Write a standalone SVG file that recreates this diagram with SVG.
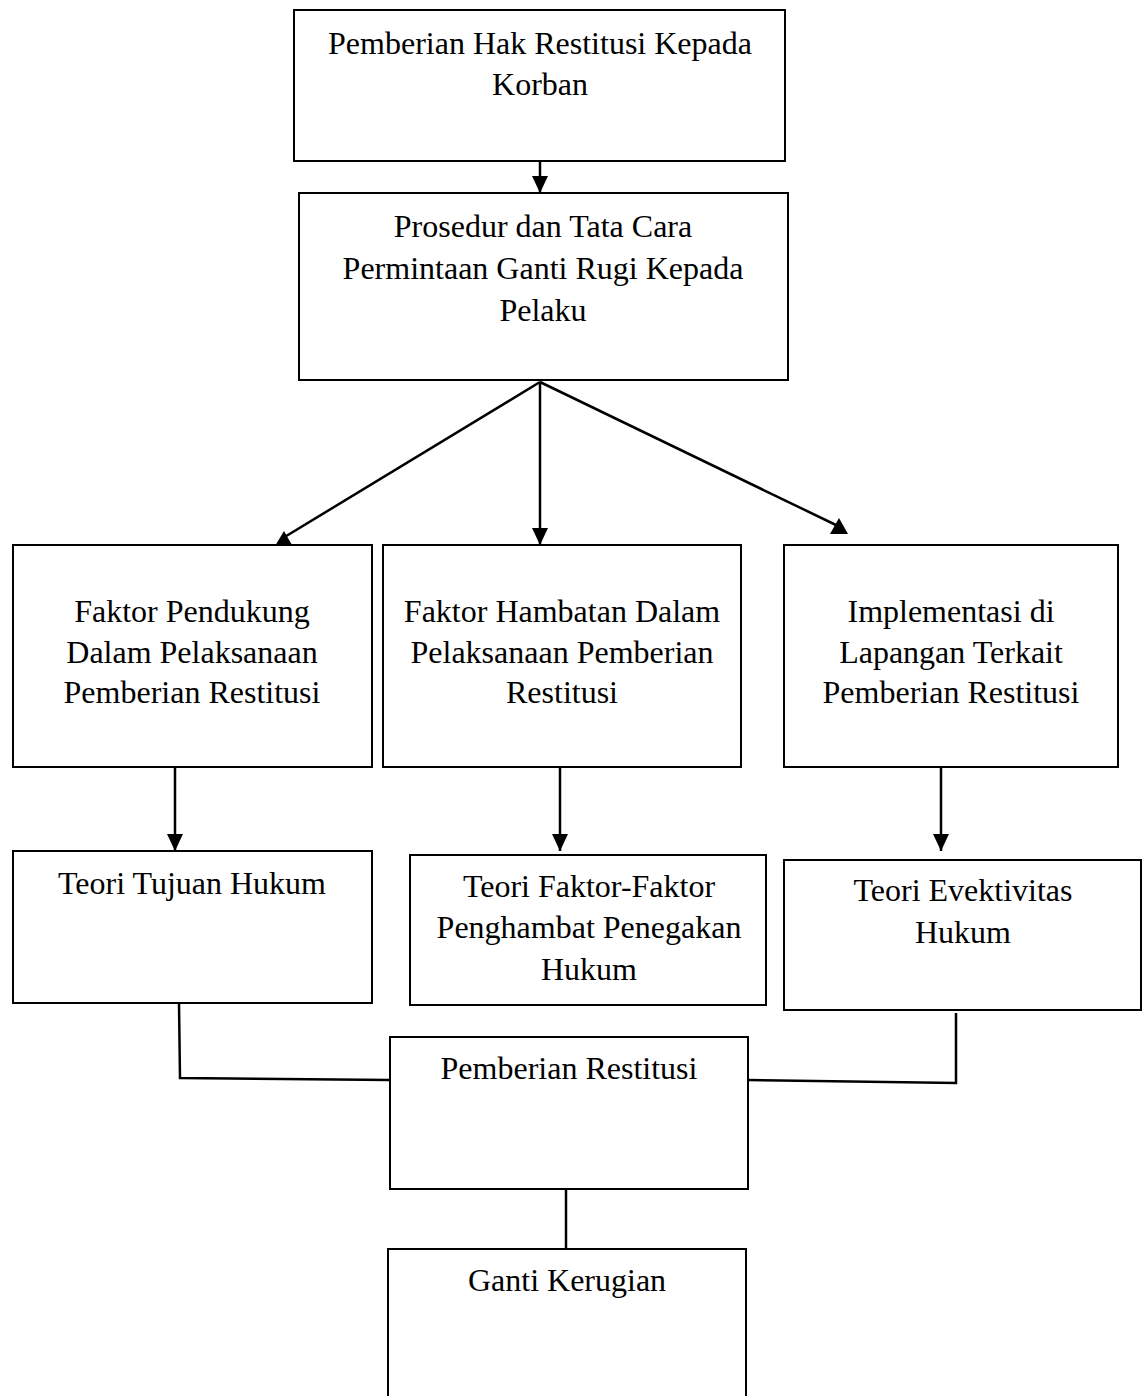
<svg xmlns="http://www.w3.org/2000/svg" width="1142" height="1396" viewBox="0 0 1142 1396">
<style>
rect{fill:#fff;stroke:#000;stroke-width:2}
text{font-family:"Liberation Serif","Times New Roman",serif;font-size:32px;fill:#000;text-anchor:middle}
.c{fill:none;stroke:#000;stroke-width:2.5}
.h{fill:#000;stroke:none}
</style>
<defs>
<marker id="ah" markerUnits="userSpaceOnUse" markerWidth="17" markerHeight="16" refX="17" refY="8" orient="auto">
<path d="M0,0 L17,8 L0,16 Z" fill="#000"/>
</marker>
</defs>
<rect x="0" y="0" width="1142" height="1396" style="stroke:none"/>
<g id="connectors">
<line class="c" x1="540" y1="161" x2="540" y2="193" marker-end="url(#ah)"/>
<line class="c" x1="540" y1="382" x2="283" y2="538"/>
<polygon class="h" points="275,546 292,545 284,531"/>
<line class="c" x1="540" y1="382" x2="540" y2="545" marker-end="url(#ah)"/>
<line class="c" x1="540" y1="382" x2="838" y2="526"/>
<polygon class="h" points="830,534 848,534 839,518"/>
<line class="c" x1="175" y1="767" x2="175" y2="851" marker-end="url(#ah)"/>
<line class="c" x1="560" y1="767" x2="560" y2="851" marker-end="url(#ah)"/>
<line class="c" x1="941" y1="767" x2="941" y2="851" marker-end="url(#ah)"/>
<polyline class="c" points="179,1003 180,1078 390,1080"/>
<polyline class="c" points="956,1013 956,1083 748,1080"/>
<line class="c" x1="566" y1="1189" x2="566" y2="1249"/>
</g>
<g id="n1"><rect x="294" y="10" width="491" height="151"/><text x="540" y="54">Pemberian Hak Restitusi Kepada</text><text x="540" y="95">Korban</text></g>
<g id="n2"><rect x="299" y="193" width="489" height="187"/><text x="543" y="237">Prosedur dan Tata Cara</text><text x="543" y="279">Permintaan Ganti Rugi Kepada</text><text x="543" y="321">Pelaku</text></g>
<g id="n3"><rect x="13" y="545" width="359" height="222"/><text x="192" y="622">Faktor Pendukung</text><text x="192" y="663">Dalam Pelaksanaan</text><text x="192" y="703">Pemberian Restitusi</text></g>
<g id="n4"><rect x="383" y="545" width="358" height="222"/><text x="562" y="622">Faktor Hambatan Dalam</text><text x="562" y="663">Pelaksanaan Pemberian</text><text x="562" y="703">Restitusi</text></g>
<g id="n5"><rect x="784" y="545" width="334" height="222"/><text x="951" y="622">Implementasi di</text><text x="951" y="663">Lapangan Terkait</text><text x="951" y="703">Pemberian Restitusi</text></g>
<g id="n6"><rect x="13" y="851" width="359" height="152"/><text x="192" y="894">Teori Tujuan Hukum</text></g>
<g id="n7"><rect x="410" y="855" width="356" height="150"/><text x="589" y="897">Teori Faktor-Faktor</text><text x="589" y="938">Penghambat Penegakan</text><text x="589" y="980">Hukum</text></g>
<g id="n8"><rect x="784" y="860" width="357" height="150"/><text x="963" y="901">Teori Evektivitas</text><text x="963" y="943">Hukum</text></g>
<g id="n9"><rect x="390" y="1037" width="358" height="152"/><text x="569" y="1079">Pemberian Restitusi</text></g>
<g id="n10"><rect x="388" y="1249" width="358" height="160"/><text x="567" y="1291">Ganti Kerugian</text></g>
</svg>
